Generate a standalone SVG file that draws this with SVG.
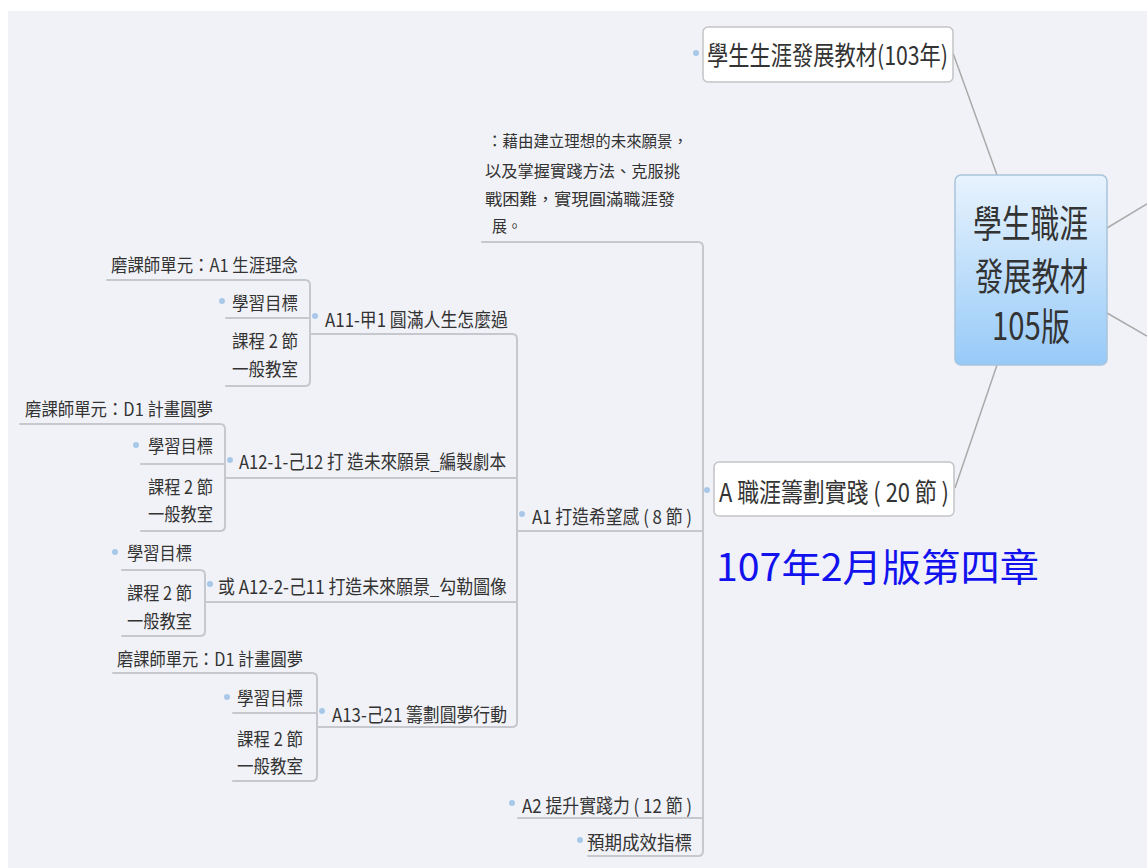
<svg xmlns="http://www.w3.org/2000/svg" width="1147" height="868" viewBox="0 0 1147 868">
<style>
.t{font-family:"Noto Sans CJK TC","Noto Sans CJK SC",sans-serif;fill:#333333;dominant-baseline:central}
.s{font-size:18px}
.m{font-size:19px}
.d{font-size:16px}
.ln{fill:none;stroke:#c7c8cd;stroke-width:2;stroke-linecap:round}
.cn{fill:none;stroke:#aaaaaa;stroke-width:1.5}
.dot{fill:#a9c8e8}
.box{fill:#ffffff;stroke:#c3c4c8;stroke-width:1.5}
</style>
<defs>
<linearGradient id="rootg" x1="0" y1="0" x2="0" y2="1">
<stop offset="0" stop-color="#e8f3fd"/>
<stop offset="1" stop-color="#97caf8"/>
</linearGradient>
</defs>
<rect x="0" y="0" width="1147" height="868" fill="#ffffff"/>
<rect x="8" y="11" width="1139" height="857" fill="#f1f2f7"/>

<g id="connectors">
<line class="cn" x1="953" y1="53" x2="997" y2="175"/>
<line class="cn" x1="997" y1="365" x2="955" y2="488"/>
<line class="cn" x1="1107" y1="228" x2="1147" y2="204"/>
<line class="cn" x1="1107" y1="313" x2="1147" y2="336"/>
<path class="ln" d="M482,242 H698 Q703,242 703,247 V851 Q703,856 698,856 H588"/>
<line class="ln" x1="518" y1="531" x2="703" y2="531"/>
<line class="ln" x1="518" y1="818" x2="703" y2="818"/>
<path class="ln" d="M310,334 H512 Q517,334 517,339 V722 Q517,727 512,727 H317"/>
<line class="ln" x1="225" y1="478" x2="517" y2="478"/>
<line class="ln" x1="205" y1="602" x2="517" y2="602"/>
<path class="ln" d="M107,280 H305 Q310,280 310,285 V381 Q310,386 305,386 H226"/>
<line class="ln" x1="226" y1="318" x2="310" y2="318"/>
<path class="ln" d="M20,424 H220 Q225,424 225,429 V526 Q225,531 220,531 H141"/>
<line class="ln" x1="141" y1="464" x2="225" y2="464"/>
<path class="ln" d="M122,570 H200 Q205,570 205,575 V631 Q205,636 200,636 H122"/>
<path class="ln" d="M113,673 H312 Q317,673 317,678 V776 Q317,781 312,781 H233"/>
<line class="ln" x1="233" y1="713" x2="317" y2="713"/>
</g>

<g id="root">
<rect x="955" y="175" width="152" height="190" rx="6" fill="url(#rootg)" stroke="#a9c3dc" stroke-width="1.5"/>
<text class="t" x="973" y="220" font-size="38" textLength="115" lengthAdjust="spacingAndGlyphs">學生職涯</text>
<text class="t" x="975" y="273" font-size="38" textLength="113" lengthAdjust="spacingAndGlyphs">發展教材</text>
<text class="t" x="992" y="323" font-size="38" textLength="78" lengthAdjust="spacingAndGlyphs">105版</text>
</g>

<g id="node-103">
<circle class="dot" cx="696" cy="53" r="3"/>
<rect class="box" x="703" y="27" width="250" height="55" rx="5"/>
<text class="t" x="707" y="53" font-size="26" textLength="241" lengthAdjust="spacingAndGlyphs">學生生涯發展教材(103年)</text>
</g>

<g id="node-A">
<circle class="dot" cx="707" cy="490" r="3"/>
<rect class="box" x="714" y="462" width="240" height="54" rx="5"/>
<text class="t" x="719" y="490" font-size="26" textLength="230" lengthAdjust="spacingAndGlyphs">A 職涯籌劃實踐 ( 20 節 )</text>
</g>

<g id="note-blue">
<text x="716" y="564" font-family="Noto Sans CJK TC, Noto Sans CJK SC, sans-serif" font-size="38" fill="#1212ee" dominant-baseline="central" textLength="323" lengthAdjust="spacingAndGlyphs">107年2月版第四章</text>
</g>

<g id="desc">
<text class="t d" x="487" y="140" textLength="201" lengthAdjust="spacingAndGlyphs">：藉由建立理想的未來願景，</text>
<text class="t d" x="485" y="170" textLength="195" lengthAdjust="spacingAndGlyphs">以及掌握實踐方法、克服挑</text>
<text class="t d" x="485" y="198" textLength="190" lengthAdjust="spacingAndGlyphs">戰困難，實現圓滿職涯發</text>
<text class="t d" x="492" y="225" textLength="30" lengthAdjust="spacingAndGlyphs">展。</text>
</g>

<g id="node-A1">
<circle class="dot" cx="522" cy="514" r="3"/>
<text class="t m" x="532" y="515" textLength="160" lengthAdjust="spacingAndGlyphs">A1 打造希望感 ( 8 節 )</text>
</g>

<g id="node-A2">
<circle class="dot" cx="512" cy="803" r="3"/>
<text class="t m" x="522" y="804" textLength="170" lengthAdjust="spacingAndGlyphs">A2 提升實踐力 ( 12 節 )</text>
</g>

<g id="node-indicator">
<circle class="dot" cx="580" cy="840" r="3"/>
<text class="t m" x="587" y="841" textLength="105" lengthAdjust="spacingAndGlyphs">預期成效指標</text>
</g>

<g id="node-A11">
<circle class="dot" cx="315" cy="316" r="3"/>
<text class="t m" x="325" y="318" textLength="183" lengthAdjust="spacingAndGlyphs">A11-甲1 圓滿人生怎麼過</text>
</g>
<g id="node-A11-mooc">
<text class="t s" x="111" y="264" textLength="187" lengthAdjust="spacingAndGlyphs">磨課師單元：A1 生涯理念</text>
</g>
<g id="node-A11-goal">
<circle class="dot" cx="222" cy="301" r="3"/>
<text class="t s" x="232" y="302" textLength="66" lengthAdjust="spacingAndGlyphs">學習目標</text>
</g>
<g id="node-A11-course">
<text class="t s" x="232" y="340" textLength="66" lengthAdjust="spacingAndGlyphs">課程 2 節</text>
<text class="t s" x="232" y="368" textLength="66" lengthAdjust="spacingAndGlyphs">一般教室</text>
</g>

<g id="node-A12-1">
<circle class="dot" cx="230" cy="460" r="3"/>
<text class="t m" x="239" y="460" textLength="267" lengthAdjust="spacingAndGlyphs">A12-1-己12 打 造未來願景_編製劇本</text>
</g>
<g id="node-A12-1-mooc">
<text class="t s" x="25" y="408" textLength="188" lengthAdjust="spacingAndGlyphs">磨課師單元：D1 計畫圓夢</text>
</g>
<g id="node-A12-1-goal">
<circle class="dot" cx="136" cy="445" r="3"/>
<text class="t s" x="148" y="445" textLength="65" lengthAdjust="spacingAndGlyphs">學習目標</text>
</g>
<g id="node-A12-1-course">
<text class="t s" x="148" y="486" textLength="65" lengthAdjust="spacingAndGlyphs">課程 2 節</text>
<text class="t s" x="148" y="513" textLength="65" lengthAdjust="spacingAndGlyphs">一般教室</text>
</g>

<g id="node-A12-2">
<circle class="dot" cx="210" cy="584" r="3"/>
<text class="t m" x="218" y="585" textLength="289" lengthAdjust="spacingAndGlyphs">或 A12-2-己11 打造未來願景_勾勒圖像</text>
</g>
<g id="node-A12-2-goal">
<circle class="dot" cx="115" cy="552" r="3"/>
<text class="t s" x="127" y="552" textLength="65" lengthAdjust="spacingAndGlyphs">學習目標</text>
</g>
<g id="node-A12-2-course">
<text class="t s" x="127" y="592" textLength="65" lengthAdjust="spacingAndGlyphs">課程 2 節</text>
<text class="t s" x="127" y="620" textLength="65" lengthAdjust="spacingAndGlyphs">一般教室</text>
</g>

<g id="node-A13">
<circle class="dot" cx="322" cy="711" r="3"/>
<text class="t m" x="332" y="713" textLength="175" lengthAdjust="spacingAndGlyphs">A13-己21 籌劃圓夢行動</text>
</g>
<g id="node-A13-mooc">
<text class="t s" x="117" y="658" textLength="186" lengthAdjust="spacingAndGlyphs">磨課師單元：D1 計畫圓夢</text>
</g>
<g id="node-A13-goal">
<circle class="dot" cx="227" cy="697" r="3"/>
<text class="t s" x="237" y="697" textLength="66" lengthAdjust="spacingAndGlyphs">學習目標</text>
</g>
<g id="node-A13-course">
<text class="t s" x="237" y="738" textLength="66" lengthAdjust="spacingAndGlyphs">課程 2 節</text>
<text class="t s" x="237" y="765" textLength="66" lengthAdjust="spacingAndGlyphs">一般教室</text>
</g>
</svg>
